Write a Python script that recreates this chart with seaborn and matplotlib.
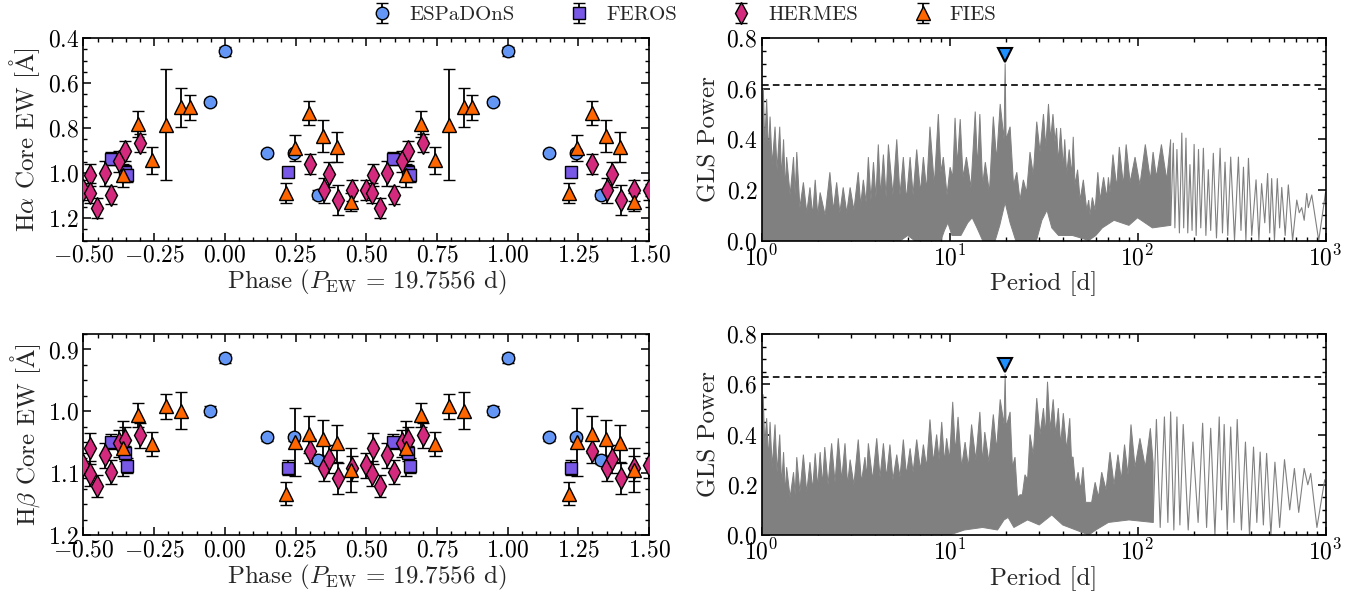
import numpy as np
import matplotlib
matplotlib.use("Agg")
import matplotlib.pyplot as plt
import seaborn as sns
from matplotlib.ticker import MultipleLocator, LogLocator, NullFormatter, FormatStrFormatter

P_EW = 19.7556  # adopted rotation period [d]

# ---------------- phased core equivalent widths (one cycle, phase in [-0.5, 0.5)) ----------------
esp_phase = [-0.052, 0.000, 0.148, 0.243, 0.331]
esp_ha = [0.684, 0.459, 0.911, 0.911, 1.096]
esp_ha_err = [0.015, 0.02, 0.015, 0.015, 0.02]
esp_hb = [0.999, 0.9145, 1.042, 1.042, 1.078]
esp_hb_err = [0.007, 0.008, 0.006, 0.006, 0.007]

feros_phase = [-0.404, -0.352, -0.346, 0.225]
feros_ha = [0.936, 0.995, 1.010, 0.993]
feros_ha_err = [0.03, 0.03, 0.03, 0.02]
feros_hb = [1.049, 1.068, 1.088, 1.091]
feros_hb_err = [0.012, 0.012, 0.012, 0.012]

hermes_phase = [-0.476, -0.478, -0.452, -0.425, -0.402, -0.374, -0.352, -0.300,
                0.300, 0.350, 0.368, 0.400, 0.448, 0.499]
hermes_ha = [1.008, 1.089, 1.156, 1.001, 1.099, 0.948, 0.902, 0.867,
             0.960, 1.077, 1.005, 1.119, 1.077, 1.076]
hermes_ha_err = [0.048, 0.045, 0.045, 0.055, 0.04, 0.045, 0.045, 0.04,
                 0.043, 0.057, 0.055, 0.067, 0.045, 0.045]
hermes_hb = [1.060, 1.101, 1.121, 1.071, 1.098, 1.052, 1.046, 1.039,
             1.064, 1.092, 1.077, 1.108, 1.092, 1.087]
hermes_hb_err = [0.025, 0.02, 0.018, 0.02, 0.02, 0.022, 0.02, 0.02,
                 0.02, 0.02, 0.022, 0.025, 0.02, 0.02]

fies_phase = [-0.360, -0.306, -0.257, -0.207, -0.156, -0.125,
              0.217, 0.247, 0.297, 0.348, 0.398, 0.446]
fies_ha = [1.010, 0.782, 0.943, 0.784, 0.708, 0.708,
           1.089, 0.888, 0.732, 0.836, 0.884, 1.129]
fies_ha_err = [0.05, 0.057, 0.06, 0.245, 0.085, 0.057,
               0.045, 0.058, 0.052, 0.072, 0.065, 0.04]
fies_hb = [1.060, 1.006, 1.053, 0.992, 0.999, np.nan,
           1.133, 1.049, 1.037, 1.044, 1.052, 1.095]
fies_hb_err = [0.045, 0.02, 0.02, 0.02, 0.03, np.nan,
               0.018, 0.055, 0.03, 0.03, 0.03, 0.035]

# ---------------- GLS periodogram of the H-alpha core EW ----------------
# upper edge of the dense forest: alternating peak / trough values
ha_band_top_p = [1.00, 1.01, 1.023, 1.04, 1.065, 1.09, 1.11, 1.14, 1.18, 1.21, 1.25, 1.28,
                 1.31, 1.34, 1.36, 1.42, 1.48, 1.51, 1.54, 1.60, 1.67, 1.74, 1.81, 1.87,
                 1.93, 1.99, 2.05, 2.18, 2.31, 2.41, 2.51, 2.61, 2.72, 2.84, 2.96, 3.10,
                 3.27, 3.37, 3.48, 3.60, 3.70, 3.82, 3.94, 4.06, 4.18, 4.30, 4.45, 4.60,
                 4.73, 5.00, 5.24, 5.45, 5.68, 5.90, 6.17, 6.40, 6.69, 7.00, 7.26, 7.55,
                 7.87, 8.30, 8.72, 9.00, 9.27, 9.70, 10.07, 10.4, 10.7, 11.0, 11.4, 11.8,
                 12.3, 13.0, 13.7, 14.1, 14.5, 15.0, 15.5, 16.3, 17.1, 17.8, 18.6, 19.5,
                 19.76, 20.0, 21.0, 21.9, 22.8, 23.7, 24.7, 25.7, 26.8, 27.9, 29.1, 30.3,
                 31.6, 32.5, 33.6, 34.5, 35.5, 36.4, 37.1, 37.9, 39.0, 40.3, 41.0, 42.0,
                 43.3, 44.7, 45.5, 46.5, 48.0, 49.5, 51.5, 53.7, 55.0, 55.9, 57.5, 59.5,
                 61.5, 63.2, 66.0, 68.6, 70.0, 71.4, 74.0, 77.5, 80.0, 84.1, 87.0, 91.3,
                 97.0, 103, 110, 117, 121, 126, 134, 143, 150]
ha_band_top_pow = [0.60, 0.40, 0.60, 0.38, 0.56, 0.34, 0.49, 0.30, 0.45, 0.28, 0.45, 0.25,
                   0.40, 0.20, 0.33, 0.18, 0.33, 0.18, 0.35, 0.13, 0.23, 0.11, 0.21, 0.10,
                   0.24, 0.10, 0.19, 0.10, 0.27, 0.12, 0.23, 0.11, 0.21, 0.11, 0.21, 0.12,
                   0.27, 0.14, 0.24, 0.15, 0.33, 0.16, 0.31, 0.17, 0.38, 0.18, 0.34, 0.17,
                   0.38, 0.18, 0.40, 0.18, 0.33, 0.16, 0.33, 0.18, 0.36, 0.19, 0.33, 0.20,
                   0.45, 0.22, 0.50, 0.27, 0.33, 0.18, 0.29, 0.25, 0.485, 0.30, 0.48, 0.25,
                   0.33, 0.21, 0.51, 0.29, 0.50, 0.22, 0.31, 0.19, 0.49, 0.32, 0.54, 0.40,
                   0.70, 0.40, 0.45, 0.22, 0.27, 0.16, 0.24, 0.19, 0.35, 0.26, 0.47, 0.35,
                   0.50, 0.37, 0.54, 0.40, 0.50, 0.39, 0.445, 0.31, 0.445, 0.29, 0.40, 0.26,
                   0.36, 0.26, 0.41, 0.22, 0.28, 0.16, 0.24, 0.12, 0.16, 0.10, 0.17, 0.12,
                   0.27, 0.16, 0.25, 0.17, 0.25, 0.19, 0.34, 0.21, 0.37, 0.22, 0.38, 0.23,
                   0.33, 0.22, 0.38, 0.24, 0.35, 0.25, 0.38, 0.24, 0.40]
ha_band_bot_p = [1.0, 5.5, 6.0, 6.5, 9.0, 9.4, 9.8, 10.3, 11.5, 12.5, 13.2, 14.0, 15.0, 17.5,
                 18.5, 19.76, 21.0, 22.5, 29.0, 31.0, 33.0, 35.0, 38.0, 45.0, 50.0, 55.0,
                 60.0, 65.0, 75.0, 90.0, 100, 120, 150]
ha_band_bot_pow = [0.0, 0.0, 0.02, 0.0, 0.0, 0.04, 0.07, 0.02, 0.02, 0.07, 0.09, 0.05, 0.0, 0.0,
                   0.06, 0.15, 0.07, 0.0, 0.0, 0.08, 0.12, 0.05, 0.02, 0.02, 0.01, 0.0,
                   0.02, 0.05, 0.08, 0.06, 0.09, 0.05, 0.06]
# resolved long-period fringes: alternating peak / trough values
ha_tail_p = [150, 155, 158, 162, 167, 172, 176, 181, 185, 190, 195, 200, 205, 211, 217, 224,
             231, 238, 245, 253, 263, 275, 283, 292, 302, 313, 328, 344, 355, 366, 377, 389,
             405, 427, 442, 457, 475, 492, 505, 517, 535, 554, 570, 585, 610, 634, 668, 703,
             725, 747, 770, 794, 810, 845, 920, 1000]
ha_tail_pow = [0.06, 0.385, 0.05, 0.36, 0.03, 0.425, 0.05, 0.405, 0.03, 0.30, 0.04, 0.38,
               0.02, 0.36, 0.05, 0.365, 0.02, 0.28, 0.04, 0.345, 0.01, 0.365, 0.03, 0.31,
               0.02, 0.33, 0.0, 0.33, 0.04, 0.29, 0.0, 0.325, 0.02, 0.24, 0.0, 0.225,
               0.07, 0.265, 0.03, 0.245, 0.0, 0.245, 0.05, 0.21, 0.02, 0.22, 0.0, 0.16,
               0.11, 0.13, 0.08, 0.186, 0.13, 0.18, 0.0, 0.19]
ha_fap = 0.614

# ---------------- GLS periodogram of the H-beta core EW ----------------
hb_band_top_p = [1.00, 1.01, 1.02, 1.04, 1.065, 1.09, 1.11, 1.14, 1.18, 1.21, 1.25, 1.28,
                 1.31, 1.34, 1.36, 1.42, 1.48, 1.51, 1.54, 1.60, 1.67, 1.74, 1.81, 1.87,
                 1.93, 1.99, 2.05, 2.11, 2.17, 2.26, 2.36, 2.46, 2.56, 2.67, 2.78, 2.87,
                 2.96, 3.10, 3.27, 3.40, 3.55, 3.62, 3.70, 3.90, 4.10, 4.27, 4.45, 4.62,
                 4.82, 5.00, 5.24, 5.45, 5.68, 5.90, 6.17, 6.40, 6.69, 7.00, 7.26, 7.55,
                 7.87, 8.20, 8.54, 8.80, 9.09, 9.40, 9.65, 10.0, 10.4, 10.75, 11.1, 11.6,
                 12.1, 12.6, 13.1, 13.8, 14.5, 15.0, 15.4, 16.2, 17.1, 17.8, 18.6, 19.5,
                 19.76, 20.0, 21.0, 21.6, 22.3, 23.0, 23.7, 24.4, 25.2, 26.0, 26.8, 27.9,
                 29.1, 30.3, 31.6, 32.4, 33.2, 34.3, 35.6, 36.7, 37.9, 39.0, 40.3, 42.0,
                 43.6, 44.5, 45.4, 46.8, 48.3, 49.8, 51.3, 53.0, 54.6, 57.0, 59.5, 62.0,
                 64.5, 68.0, 71.4, 75.0, 78.7, 82.0, 85.3, 89.0, 92.3, 97.0, 103, 110,
                 117, 121]
hb_band_top_pow = [0.60, 0.40, 0.56, 0.36, 0.465, 0.30, 0.45, 0.27, 0.44, 0.25, 0.40, 0.20,
                   0.33, 0.16, 0.27, 0.15, 0.25, 0.16, 0.31, 0.17, 0.32, 0.17, 0.29, 0.18,
                   0.325, 0.19, 0.33, 0.20, 0.35, 0.20, 0.365, 0.21, 0.385, 0.22, 0.365, 0.20,
                   0.30, 0.20, 0.38, 0.21, 0.31, 0.23, 0.365, 0.22, 0.385, 0.23, 0.365, 0.23,
                   0.36, 0.22, 0.32, 0.23, 0.38, 0.24, 0.345, 0.25, 0.38, 0.26, 0.36, 0.27,
                   0.46, 0.29, 0.40, 0.30, 0.45, 0.29, 0.385, 0.30, 0.53, 0.33, 0.47, 0.27,
                   0.37, 0.27, 0.44, 0.30, 0.49, 0.29, 0.41, 0.29, 0.48, 0.34, 0.54, 0.44,
                   0.64, 0.43, 0.49, 0.27, 0.31, 0.15, 0.16, 0.16, 0.24, 0.22, 0.40, 0.32,
                   0.545, 0.40, 0.505, 0.40, 0.61, 0.42, 0.54, 0.40, 0.505, 0.36, 0.485, 0.34,
                   0.465, 0.31, 0.31, 0.20, 0.25, 0.18, 0.27, 0.13, 0.13, 0.13, 0.21, 0.15,
                   0.25, 0.18, 0.33, 0.20, 0.32, 0.22, 0.36, 0.24, 0.44, 0.27, 0.385, 0.27,
                   0.425, 0.29]
hb_band_bot_p = [1.0, 10.0, 12.0, 15.0, 18.0, 19.5, 20.5, 22.0, 26.0, 30.0, 35.0, 40.0,
                 47.0, 55.0, 60.0, 70.0, 90.0, 121]
hb_band_bot_pow = [0.0, 0.0, 0.02, 0.03, 0.02, 0.06, 0.07, 0.03, 0.06, 0.04, 0.08, 0.04,
                   0.02, 0.0, 0.02, 0.05, 0.06, 0.05]
hb_tail_p = [121, 126, 132, 139, 145, 150, 156, 162, 168, 175, 186, 197, 210, 222, 233, 245,
             258, 272, 280, 289, 300, 313, 326, 339, 357, 375, 394, 414, 431, 449, 467, 486,
             512, 538, 570, 605, 645, 683, 720, 770, 805, 834, 900, 990, 1000]
hb_tail_pow = [0.05, 0.46, 0.03, 0.47, 0.05, 0.49, 0.02, 0.47, 0.04, 0.44, 0.02, 0.37,
               0.05, 0.445, 0.03, 0.425, 0.0, 0.47, 0.10, 0.44, 0.02, 0.43, 0.05, 0.46,
               0.02, 0.37, 0.0, 0.35, 0.05, 0.33, 0.04, 0.325, 0.0, 0.29, 0.03, 0.30,
               0.10, 0.265, 0.09, 0.265, 0.20, 0.245, 0.03, 0.22, 0.21]
hb_fap = 0.629

peak_marker_y = {"ha": 0.735, "hb": 0.678}

# ---------------- style ----------------
sns.set_theme(style="ticks")
plt.rcParams.update({
    "font.family": "serif",
    "font.serif": ["cmr10", "DejaVu Serif"],
    "mathtext.fontset": "cm",
    "axes.formatter.use_mathtext": True,
    "axes.unicode_minus": True,
    "axes.linewidth": 1.2,
    "axes.edgecolor": "black",
    "xtick.color": "black",
    "ytick.color": "black",
    "xtick.direction": "in",
    "ytick.direction": "in",
    "xtick.top": True,
    "ytick.right": True,
    "xtick.major.size": 5.5,
    "ytick.major.size": 5.5,
    "xtick.minor.size": 3,
    "ytick.minor.size": 3,
    "xtick.major.width": 1.1,
    "ytick.major.width": 1.1,
    "xtick.minor.width": 1.0,
    "ytick.minor.width": 1.0,
    "xtick.labelsize": 17,
    "ytick.labelsize": 17,
    "axes.labelsize": 18,
})

colors = {"ESPaDOnS": "#6496F5", "FEROS": "#7858E6", "HERMES": "#D42A7E", "FIES": "#FF6600"}
markers = {"ESPaDOnS": ("o", 9), "FEROS": ("s", 9), "HERMES": ("d", 11), "FIES": ("^", 10)}
gls_gray = "#808080"

fig = plt.figure(figsize=(13.64, 6.01), dpi=100)
ax_ha = fig.add_axes([0.0612, 0.5998, 0.4146, 0.3366])
ax_hb = fig.add_axes([0.0612, 0.1098, 0.4146, 0.3344])
ax_gha = fig.add_axes([0.5583, 0.5998, 0.4135, 0.3366])
ax_ghb = fig.add_axes([0.5583, 0.1098, 0.4135, 0.3344])


def tile(phase, vals, errs):
    ph = np.asarray(phase, float)
    v = np.asarray(vals, float)
    e = np.asarray(errs, float)
    return (np.concatenate([ph - 1, ph, ph + 1]), np.tile(v, 3), np.tile(e, 3))


def phase_panel(ax, series, ylim, ymajor, yminor, ylabel):
    handles = []
    for name, ph, vals, errs in series:
        x, y, e = tile(ph, vals, errs)
        m, ms = markers[name]
        h = ax.errorbar(x, y, yerr=e, fmt=m, ms=ms, mfc=colors[name], mec="black", mew=1.0,
                        ecolor="black", elinewidth=1.3, capsize=4.5, capthick=1.3,
                        label=name, zorder=3)
        handles.append(h)
    ax.set_xlim(-0.5, 1.5)
    ax.set_ylim(*ylim)
    ax.xaxis.set_major_locator(MultipleLocator(0.25))
    ax.xaxis.set_minor_locator(MultipleLocator(0.05))
    ax.yaxis.set_major_locator(MultipleLocator(ymajor))
    ax.yaxis.set_minor_locator(MultipleLocator(yminor))
    ax.xaxis.set_major_formatter(FormatStrFormatter(r"$%.2f$"))
    ax.yaxis.set_major_formatter(FormatStrFormatter(r"$%.1f$"))
    ax.set_xlabel(r"Phase ($P_{\rm EW}$ = %.4f d)" % P_EW, labelpad=1)
    ax.set_ylabel(ylabel, labelpad=4)
    return handles


handles = phase_panel(
    ax_ha,
    [("ESPaDOnS", esp_phase, esp_ha, esp_ha_err),
     ("FEROS", feros_phase, feros_ha, feros_ha_err),
     ("HERMES", hermes_phase, hermes_ha, hermes_ha_err),
     ("FIES", fies_phase, fies_ha, fies_ha_err)],
    (1.3, 0.4), 0.2, 0.05, r"H$\alpha$ Core EW [$\mathrm{\AA}$]")

phase_panel(
    ax_hb,
    [("ESPaDOnS", esp_phase, esp_hb, esp_hb_err),
     ("FEROS", feros_phase, feros_hb, feros_hb_err),
     ("HERMES", hermes_phase, hermes_hb, hermes_hb_err),
     ("FIES", fies_phase, fies_hb, fies_hb_err)],
    (1.2, 0.875), 0.1, 0.025, r"H$\beta$ Core EW [$\mathrm{\AA}$]")


def gls_panel(ax, top_p, top_pow, bot_p, bot_pow, tail_p, tail_pow, fap, mark_y):
    # dense forest of aliases: outline follows the peaks/troughs above and the floor below
    xs = np.concatenate([np.asarray(top_p, float), np.asarray(bot_p, float)[::-1]])
    ys = np.concatenate([np.asarray(top_pow, float), np.asarray(bot_pow, float)[::-1]])
    ax.fill(xs, ys, facecolor=gls_gray, edgecolor=gls_gray, lw=0.7, zorder=2)
    # resolved fringes at long periods
    sns.lineplot(x=tail_p, y=tail_pow, ax=ax, estimator=None, sort=False,
                 color=gls_gray, lw=0.8, zorder=2)
    ax.axhline(fap, color="black", lw=1.2, ls=(0, (4, 2.5)), zorder=3)
    ax.plot([P_EW], [mark_y], marker="v", ms=10, mfc="#1E90FF", mec="black", mew=1.5,
            ls="none", zorder=4)
    ax.set_xscale("log")
    ax.set_xlim(1, 1000)
    ax.set_ylim(0, 0.8)
    ax.yaxis.set_major_locator(MultipleLocator(0.2))
    ax.yaxis.set_minor_locator(MultipleLocator(0.05))
    ax.yaxis.set_major_formatter(FormatStrFormatter(r"$%.1f$"))
    ax.xaxis.set_minor_locator(LogLocator(base=10, subs=np.arange(2, 10), numticks=20))
    ax.xaxis.set_minor_formatter(NullFormatter())
    ax.set_xlabel("Period [d]", labelpad=1)
    ax.set_ylabel("GLS Power", labelpad=4)


gls_panel(ax_gha, ha_band_top_p, ha_band_top_pow, ha_band_bot_p, ha_band_bot_pow,
          ha_tail_p, ha_tail_pow, ha_fap, peak_marker_y["ha"])
gls_panel(ax_ghb, hb_band_top_p, hb_band_top_pow, hb_band_bot_p, hb_band_bot_pow,
          hb_tail_p, hb_tail_pow, hb_fap, peak_marker_y["hb"])

for ax in (ax_ha, ax_hb, ax_gha, ax_ghb):
    ax.tick_params(which="both", top=True, right=True, direction="in")
    ax.tick_params(which="major", pad=3)
    for s in ax.spines.values():
        s.set_linewidth(1.2)
        s.set_visible(True)

fig.legend(handles, ["ESPaDOnS", "FEROS", "HERMES", "FIES"], loc="center",
           bbox_to_anchor=(0.5, 1 - 15 / 601), ncol=4, frameon=False, fontsize=15,
           columnspacing=2.4, handlelength=1.4, handletextpad=0.6)

fig.savefig("out.png", dpi=100)
